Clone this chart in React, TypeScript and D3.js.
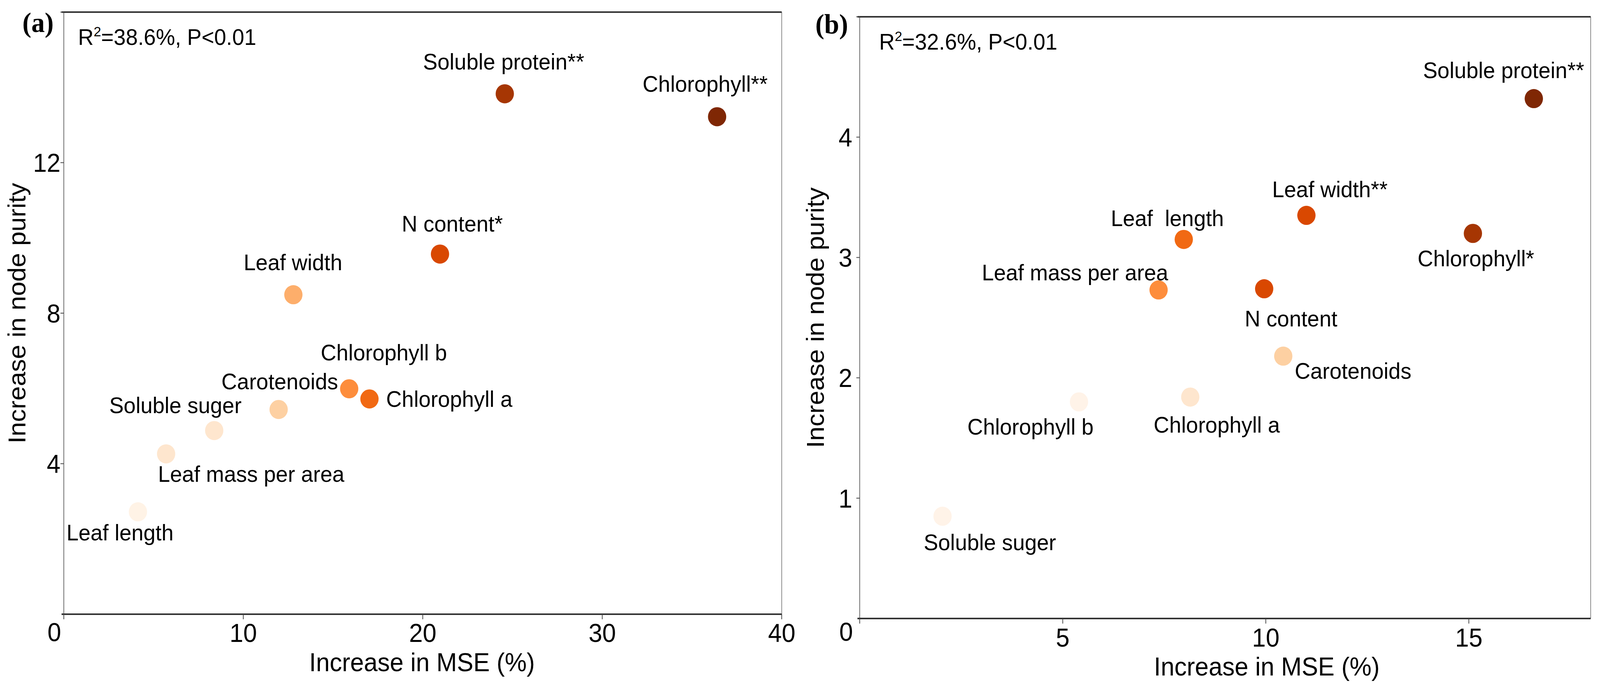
import React from "react";
import * as d3 from "d3";

// ---------- data ----------
const namesA = [
  "Leaf length", "Leaf mass per area", "Soluble suger", "Carotenoids", "Leaf width",
  "Chlorophyll b", "Chlorophyll a", "N content*", "Soluble protein**", "Chlorophyll**",
];
const mseA = [4.13, 5.7, 8.38, 11.97, 12.79, 15.9, 17.03, 20.96, 24.57, 36.4];
const purityA = [2.72, 4.26, 4.88, 5.44, 8.49, 5.99, 5.72, 9.57, 13.83, 13.22];

const namesB = [
  "Soluble suger", "Chlorophyll b", "Chlorophyll a", "Carotenoids", "Leaf mass per area",
  "Leaf  length", "N content", "Leaf width**", "Chlorophyll*", "Soluble protein**",
];
const mseB = [2.04, 5.4, 8.14, 10.43, 7.36, 7.98, 9.96, 11.0, 15.1, 16.6];
const purityB = [0.85, 1.8, 1.84, 2.18, 2.73, 3.15, 2.74, 3.35, 3.2, 4.32];

const xTicksA = [0, 10, 20, 30, 40];
const yTicksA = [4, 8, 12];
const xTicksB = [5, 10, 15];
const yTicksB = [1, 2, 3, 4];

const statA = "=38.6%, P<0.01";
const statB = "=32.6%, P<0.01";

// ---------- styles / layout ----------
const colorsA = ["#fff3e6", "#fee6ce", "#fee6ce", "#fdd0a2", "#fdae6b", "#fd8d3c", "#f16913", "#d94801", "#a63603", "#7f2704"];
const colorsB = ["#fff3e8", "#fff3e8", "#fee6ce", "#fdd0a2", "#fd8d3c", "#f16913", "#d94801", "#d94801", "#a63603", "#7f2704"];

// label offsets from point centre: [dx to text centre, dy to baseline]
const labelOffA = [[-48, 73], [228, 72], [-104, -45], [3, -52], [-1, -63], [93, -73], [214, 20], [33, -58], [-3, -62], [-32, -64]];
const labelOffB = [[127, 87], [-130, 84], [71, 91], [187, 58], [-224, -25], [-44, -34], [72, 96], [63, -47], [8, 84], [-81, -53]];

const FONT = "'Liberation Sans', Arial, sans-serif";

type PanelProps = {
  letter: string;
  stat: string;
  names: string[];
  xs: number[];
  ys: number[];
  colors: string[];
  offs: number[][];
  xTicks: number[];
  yTicks: number[];
  xMax: number;
  yMax: number;
  left: number; right: number; top: number; bottom: number;
  statDx: number;
  yLabGap: number;
  xLabDy: number;
  zeroDy: number;
  xTitleX: number;
  yTitleX: number;
  letterX: number; letterY: number;
};

function Panel(p: PanelProps) {
  const x = d3.scaleLinear().domain([0, p.xMax]).range([p.left, p.right]);
  const y = d3.scaleLinear().domain([0, p.yMax]).range([p.bottom, p.top]);
  const axisCol = "#444";
  return (
    <g>
      {/* frame */}
      <line x1={p.left} x2={p.left} y1={p.top} y2={p.bottom} stroke="#666" strokeWidth={2} />
      <line x1={p.right} x2={p.right} y1={p.top} y2={p.bottom} stroke="#888" strokeWidth={2} />
      <line x1={p.left - 6} x2={p.right} y1={p.top} y2={p.top} stroke="#333" strokeWidth={4} />
      <line x1={p.left - 6} x2={p.right} y1={p.bottom} y2={p.bottom} stroke="#333" strokeWidth={4} />

      {/* x ticks */}
      {[0, ...p.xTicks.filter((t) => t !== 0)].map((t) => (
        <line key={"xt" + t} x1={x(t)} x2={x(t)} y1={p.bottom} y2={p.bottom + 13} stroke={axisCol} strokeWidth={2} />
      ))}
      {p.xTicks.filter((t) => t !== 0).map((t) => (
        <text key={"xl" + t} x={x(t)} y={p.bottom + p.xLabDy} textAnchor="middle" fontSize={66} fontFamily={FONT} fill="#000">
          {t}
        </text>
      ))}
      {/* y ticks */}
      {[...p.yTicks, p.yMax].map((t) => (
        <line key={"yt" + t} x1={p.left - 9} x2={p.left} y1={y(t)} y2={y(t)} stroke={axisCol} strokeWidth={2} />
      ))}
      {p.yTicks.map((t) => (
        <text key={"yl" + t} x={p.left - p.yLabGap} y={y(t)} dy="0.36em" textAnchor="end" fontSize={66} fontFamily={FONT} fill="#000">
          {t}
        </text>
      ))}
      <text x={p.left - p.yLabGap + 2} y={p.bottom + p.zeroDy} textAnchor="end" fontSize={66} fontFamily={FONT} fill="#000">
        0
      </text>

      {/* axis titles */}
      <text x={p.xTitleX} y={p.bottom + 146} textAnchor="middle" fontSize={66} fontFamily={FONT} fill="#000">
        Increase in MSE (%)
      </text>
      <text
        transform={`translate(${p.yTitleX},${(p.top + p.bottom) / 2}) rotate(-90)`}
        textAnchor="middle" fontSize={66} fontFamily={FONT} fill="#000"
      >
        Increase in node purity
      </text>

      {/* panel letter */}
      <text x={p.letterX} y={p.letterY} textAnchor="middle" fontSize={72} fontWeight="bold" fontFamily="'Liberation Serif', 'Times New Roman', serif" fill="#000">
        {p.letter}
      </text>

      {/* stat */}
      <text x={p.left + p.statDx} y={p.top + 84} fontSize={58} fontFamily={FONT} fill="#000">
        R<tspan fontSize={36} dy={-22}>2</tspan>
        <tspan dy={22}>{p.stat}</tspan>
      </text>

      {/* points */}
      {p.xs.map((v, i) => (
        <circle key={"c" + i} cx={x(v)} cy={y(p.ys[i])} r={24.5} fill={p.colors[i]} />
      ))}
      {/* labels */}
      {p.xs.map((v, i) => (
        <text
          key={"t" + i}
          x={x(v) + p.offs[i][0]}
          y={y(p.ys[i]) + p.offs[i][1]}
          textAnchor="middle" fontSize={58} fontFamily={FONT} fill="#000"
          style={{ whiteSpace: "pre" }}
        >
          {p.names[i]}
        </text>
      ))}
    </g>
  );
}

export default function App() {
  return (
    <svg
      viewBox="0 0 4288 1762"
      preserveAspectRatio="none"
      style={{ position: "fixed", left: 0, top: 0, width: "100vw", height: "100vh", background: "#fff", display: "block" }}
    >
      <rect x={0} y={0} width={4288} height={1762} fill="#fff" />
      <Panel
        letter="(a)" stat={statA} names={namesA} xs={mseA} ys={purityA} colors={colorsA} offs={labelOffA}
        xTicks={xTicksA} yTicks={yTicksA} xMax={40} yMax={16}
        left={171} right={2095} top={31} bottom={1573}
        statDx={38} yLabGap={9} xLabDy={71} zeroDy={69}
        xTitleX={1131} yTitleX={68} letterX={102} letterY={82}
      />
      <Panel
        letter="(b)" stat={statB} names={namesB} xs={mseB} ys={purityB} colors={colorsB} offs={labelOffB}
        xTicks={xTicksB} yTicks={yTicksB} xMax={18} yMax={5}
        left={2304} right={4263} top={43} bottom={1584}
        statDx={52} yLabGap={20} xLabDy={72} zeroDy={57}
        xTitleX={3395} yTitleX={2208} letterX={2229} letterY={86}
      />
    </svg>
  );
}
